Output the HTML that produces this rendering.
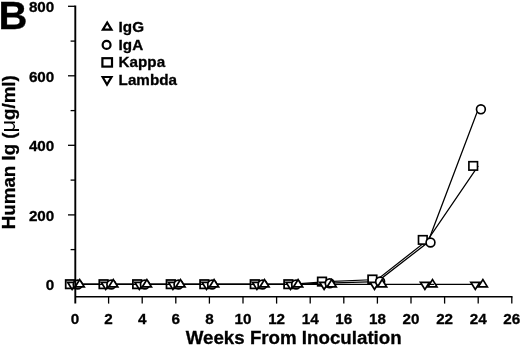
<!DOCTYPE html>
<html><head><meta charset="utf-8"><title>B</title>
<style>
html,body{margin:0;padding:0;background:#fff;}
svg{display:block}
text{font-family:"Liberation Sans",sans-serif;font-weight:bold;fill:#000;stroke:#000;stroke-width:.3px}
</style></head><body>
<svg width="520" height="345" viewBox="0 0 520 345">
<rect width="520" height="345" fill="#fff"/>

<text transform="translate(54.3,290.4) scale(1.015,1)" font-size="15" text-anchor="end">0</text>
<text transform="translate(54.3,220.9) scale(1.015,1)" font-size="15" text-anchor="end">200</text>
<text transform="translate(54.3,151.3) scale(1.015,1)" font-size="15" text-anchor="end">400</text>
<text transform="translate(54.3,81.8) scale(1.015,1)" font-size="15" text-anchor="end">600</text>
<text transform="translate(54.3,12.3) scale(1.015,1)" font-size="15" text-anchor="end">800</text>
<text transform="translate(75.0,323.9) scale(1.015,1)" font-size="15" text-anchor="middle">0</text>
<text transform="translate(108.6,323.9) scale(1.015,1)" font-size="15" text-anchor="middle">2</text>
<text transform="translate(142.2,323.9) scale(1.015,1)" font-size="15" text-anchor="middle">4</text>
<text transform="translate(175.8,323.9) scale(1.015,1)" font-size="15" text-anchor="middle">6</text>
<text transform="translate(209.4,323.9) scale(1.015,1)" font-size="15" text-anchor="middle">8</text>
<text transform="translate(243.0,323.9) scale(1.015,1)" font-size="15" text-anchor="middle">10</text>
<text transform="translate(276.6,323.9) scale(1.015,1)" font-size="15" text-anchor="middle">12</text>
<text transform="translate(310.2,323.9) scale(1.015,1)" font-size="15" text-anchor="middle">14</text>
<text transform="translate(343.8,323.9) scale(1.015,1)" font-size="15" text-anchor="middle">16</text>
<text transform="translate(377.4,323.9) scale(1.015,1)" font-size="15" text-anchor="middle">18</text>
<text transform="translate(411.0,323.9) scale(1.015,1)" font-size="15" text-anchor="middle">20</text>
<text transform="translate(444.6,323.9) scale(1.015,1)" font-size="15" text-anchor="middle">22</text>
<text transform="translate(478.2,323.9) scale(1.015,1)" font-size="15" text-anchor="middle">24</text>
<text transform="translate(511.8,323.9) scale(1.015,1)" font-size="15" text-anchor="middle">26</text>
<text transform="translate(-1.5,29.2) scale(1.03,1)" font-size="38.9" text-anchor="start">B</text>
<text transform="translate(293.7,343.5) scale(1.04,1)" font-size="18" text-anchor="middle">Weeks From Inoculation</text>
<text transform="translate(14.7,152.2) rotate(-90) scale(1.04,1)" font-size="18" text-anchor="middle">Human Ig (<tspan font-weight="normal" stroke="none" font-size="21">μ</tspan>g/ml)</text>
<text transform="translate(118.6,32.4) scale(1.015,1)" font-size="15" text-anchor="start">IgG</text>
<text transform="translate(118.6,49.8) scale(1.015,1)" font-size="15" text-anchor="start">IgA</text>
<text transform="translate(118.6,67.2) scale(1.015,1)" font-size="15" text-anchor="start">Kappa</text>
<text transform="translate(118.6,84.6) scale(1.015,1)" font-size="15" text-anchor="start">Lambda</text>
<polyline points="75.0,284.2 108.6,284.2 142.2,284.2 175.8,284.2 209.4,284.2 259.8,284.2 293.4,284.2 327.0,281.6 377.4,279.5 427.8,239.9 478.2,165.9" fill="none" stroke="#000" stroke-width="1.25"/>
<polyline points="75.0,284.4 108.6,284.4 142.2,284.4 175.8,284.4 209.4,284.4 259.8,284.4 293.4,284.4 327.0,283.2 377.4,281.6 427.8,242.5 478.2,109.3" fill="none" stroke="#000" stroke-width="1.25"/>
<g fill="#fff" stroke="#000" stroke-width="1.75" stroke-linejoin="miter"><rect x="65.7" y="280.0" width="8.6" height="8.4"/></g>
<g fill="#fff" stroke="#000" stroke-width="1.75" stroke-linejoin="miter"><rect x="99.3" y="280.0" width="8.6" height="8.4"/></g>
<g fill="#fff" stroke="#000" stroke-width="1.75" stroke-linejoin="miter"><rect x="132.9" y="280.0" width="8.6" height="8.4"/></g>
<g fill="#fff" stroke="#000" stroke-width="1.75" stroke-linejoin="miter"><rect x="166.5" y="280.0" width="8.6" height="8.4"/></g>
<g fill="#fff" stroke="#000" stroke-width="1.75" stroke-linejoin="miter"><rect x="200.1" y="280.0" width="8.6" height="8.4"/></g>
<g fill="#fff" stroke="#000" stroke-width="1.75" stroke-linejoin="miter"><rect x="250.5" y="280.0" width="8.6" height="8.4"/></g>
<g fill="#fff" stroke="#000" stroke-width="1.75" stroke-linejoin="miter"><rect x="284.1" y="280.0" width="8.6" height="8.4"/></g>
<g fill="#fff" stroke="#000" stroke-width="1.75" stroke-linejoin="miter"><rect x="317.7" y="277.4" width="8.6" height="8.4"/></g>
<g fill="#fff" stroke="#000" stroke-width="1.75" stroke-linejoin="miter"><rect x="368.1" y="275.3" width="8.6" height="8.4"/></g>
<g fill="#fff" stroke="#000" stroke-width="1.65" stroke-linejoin="miter"><rect x="418.5" y="235.7" width="8.6" height="8.4"/></g>
<g fill="#fff" stroke="#000" stroke-width="1.65" stroke-linejoin="miter"><rect x="468.9" y="161.7" width="8.6" height="8.4"/></g>
<polyline points="75.0,284.4 108.6,284.4 142.2,284.4 175.8,284.4 209.4,284.4 259.8,284.4 293.4,284.4 327.0,284.4 377.4,284.4 427.8,284.4 478.2,284.4" fill="none" stroke="#000" stroke-width="1.25"/>
<g fill="#fff" stroke="#000" stroke-width="1.75" stroke-linejoin="miter"><path d="M67.6 282.3 L72.1 289.4 L76.6 282.3 Z"/></g>
<g fill="#fff" stroke="#000" stroke-width="1.75" stroke-linejoin="miter"><path d="M101.2 282.3 L105.7 289.4 L110.2 282.3 Z"/></g>
<g fill="#fff" stroke="#000" stroke-width="1.75" stroke-linejoin="miter"><path d="M134.8 282.3 L139.3 289.4 L143.8 282.3 Z"/></g>
<g fill="#fff" stroke="#000" stroke-width="1.75" stroke-linejoin="miter"><path d="M168.4 282.3 L172.9 289.4 L177.4 282.3 Z"/></g>
<g fill="#fff" stroke="#000" stroke-width="1.75" stroke-linejoin="miter"><path d="M202.0 282.3 L206.5 289.4 L211.0 282.3 Z"/></g>
<g fill="#fff" stroke="#000" stroke-width="1.75" stroke-linejoin="miter"><path d="M252.4 282.3 L256.9 289.4 L261.4 282.3 Z"/></g>
<g fill="#fff" stroke="#000" stroke-width="1.75" stroke-linejoin="miter"><path d="M286.0 282.3 L290.5 289.4 L295.0 282.3 Z"/></g>
<g fill="#fff" stroke="#000" stroke-width="1.75" stroke-linejoin="miter"><path d="M319.6 282.3 L324.1 289.4 L328.6 282.3 Z"/></g>
<g fill="#fff" stroke="#000" stroke-width="1.75" stroke-linejoin="miter"><path d="M370.0 282.3 L374.5 289.4 L379.0 282.3 Z"/></g>
<g fill="#fff" stroke="#000" stroke-width="1.65" stroke-linejoin="miter"><path d="M420.4 282.3 L424.9 289.4 L429.4 282.3 Z"/></g>
<g fill="#fff" stroke="#000" stroke-width="1.65" stroke-linejoin="miter"><path d="M470.8 282.3 L475.3 289.4 L479.8 282.3 Z"/></g>
<g fill="#fff" stroke="#000" stroke-width="1.75" stroke-linejoin="miter"><circle cx="77.7" cy="284.4" r="4.4"/></g>
<g fill="#fff" stroke="#000" stroke-width="1.75" stroke-linejoin="miter"><circle cx="111.3" cy="284.4" r="4.4"/></g>
<g fill="#fff" stroke="#000" stroke-width="1.75" stroke-linejoin="miter"><circle cx="144.9" cy="284.4" r="4.4"/></g>
<g fill="#fff" stroke="#000" stroke-width="1.75" stroke-linejoin="miter"><circle cx="178.5" cy="284.4" r="4.4"/></g>
<g fill="#fff" stroke="#000" stroke-width="1.75" stroke-linejoin="miter"><circle cx="212.1" cy="284.4" r="4.4"/></g>
<g fill="#fff" stroke="#000" stroke-width="1.75" stroke-linejoin="miter"><circle cx="262.5" cy="284.4" r="4.4"/></g>
<g fill="#fff" stroke="#000" stroke-width="1.75" stroke-linejoin="miter"><circle cx="296.1" cy="284.4" r="4.4"/></g>
<g fill="#fff" stroke="#000" stroke-width="1.75" stroke-linejoin="miter"><circle cx="329.7" cy="283.2" r="4.4"/></g>
<g fill="#fff" stroke="#000" stroke-width="1.75" stroke-linejoin="miter"><circle cx="380.1" cy="281.6" r="4.4"/></g>
<g fill="#fff" stroke="#000" stroke-width="1.65" stroke-linejoin="miter"><circle cx="430.5" cy="242.5" r="4.4"/></g>
<g fill="#fff" stroke="#000" stroke-width="1.65" stroke-linejoin="miter"><circle cx="480.9" cy="109.3" r="4.4"/></g>
<g fill="#fff" stroke="#000" stroke-width="1.75" stroke-linejoin="miter"><path d="M75.2 286.8 L79.7 279.6 L84.2 286.8 Z"/></g>
<g fill="#fff" stroke="#000" stroke-width="1.75" stroke-linejoin="miter"><path d="M108.8 286.8 L113.3 279.6 L117.8 286.8 Z"/></g>
<g fill="#fff" stroke="#000" stroke-width="1.75" stroke-linejoin="miter"><path d="M142.4 286.8 L146.9 279.6 L151.4 286.8 Z"/></g>
<g fill="#fff" stroke="#000" stroke-width="1.75" stroke-linejoin="miter"><path d="M176.0 286.8 L180.5 279.6 L185.0 286.8 Z"/></g>
<g fill="#fff" stroke="#000" stroke-width="1.75" stroke-linejoin="miter"><path d="M209.6 286.8 L214.1 279.6 L218.6 286.8 Z"/></g>
<g fill="#fff" stroke="#000" stroke-width="1.75" stroke-linejoin="miter"><path d="M260.0 286.8 L264.5 279.6 L269.0 286.8 Z"/></g>
<g fill="#fff" stroke="#000" stroke-width="1.75" stroke-linejoin="miter"><path d="M293.6 286.8 L298.1 279.6 L302.6 286.8 Z"/></g>
<g fill="#fff" stroke="#000" stroke-width="1.75" stroke-linejoin="miter"><path d="M327.2 286.8 L331.7 279.6 L336.2 286.8 Z"/></g>
<g fill="#fff" stroke="#000" stroke-width="1.75" stroke-linejoin="miter"><path d="M377.6 286.8 L382.1 279.6 L386.6 286.8 Z"/></g>
<g fill="#fff" stroke="#000" stroke-width="1.65" stroke-linejoin="miter"><path d="M428.0 286.8 L432.5 279.6 L437.0 286.8 Z"/></g>
<g fill="#fff" stroke="#000" stroke-width="1.65" stroke-linejoin="miter"><path d="M478.4 286.8 L482.9 279.6 L487.4 286.8 Z"/></g>
<path d="M428.9 284.4 H434.1" stroke="#000" stroke-width="1.2"/>
<g fill="#fff" stroke="#000" stroke-width="2.2" stroke-linejoin="miter">
<path d="M102.9 29.6 L107.2 22.5 L111.5 29.6 Z"/>
<circle cx="106.6" cy="44.9" r="3.95"/>
<rect x="102.4" y="58.2" width="9.6" height="8.4"/>
<path d="M102.6 77.0 L107.0 84.6 L111.5 77.0 Z"/>
</g>
<g stroke="#000" fill="none" stroke-linecap="butt">
<path d="M75.3 5.4 V303.5" stroke-width="1.9"/>
<path d="M75.0 296.7 H512.5" stroke-width="1.5"/>
</g><g stroke="#000" stroke-width="1.3" fill="none">
<path d="M70.6 249.6 H75.0"/>
<path d="M68.0 214.9 H75.0"/>
<path d="M70.6 180.1 H75.0"/>
<path d="M68.0 145.3 H75.0"/>
<path d="M70.6 110.6 H75.0"/>
<path d="M68.0 75.8 H75.0"/>
<path d="M70.6 41.1 H75.0"/>
<path d="M68.0 6.3 H75.0"/>
<path d="M108.6 296.7 V303.6"/>
<path d="M142.2 296.7 V303.6"/>
<path d="M175.8 296.7 V303.6"/>
<path d="M209.4 296.7 V303.6"/>
<path d="M243.0 296.7 V303.6"/>
<path d="M276.6 296.7 V303.6"/>
<path d="M310.2 296.7 V303.6"/>
<path d="M343.8 296.7 V303.6"/>
<path d="M377.4 296.7 V303.6"/>
<path d="M411.0 296.7 V303.6"/>
<path d="M444.6 296.7 V303.6"/>
<path d="M478.2 296.7 V303.6"/>
<path d="M511.8 296.7 V303.6"/>
</g>
</svg></body></html>
